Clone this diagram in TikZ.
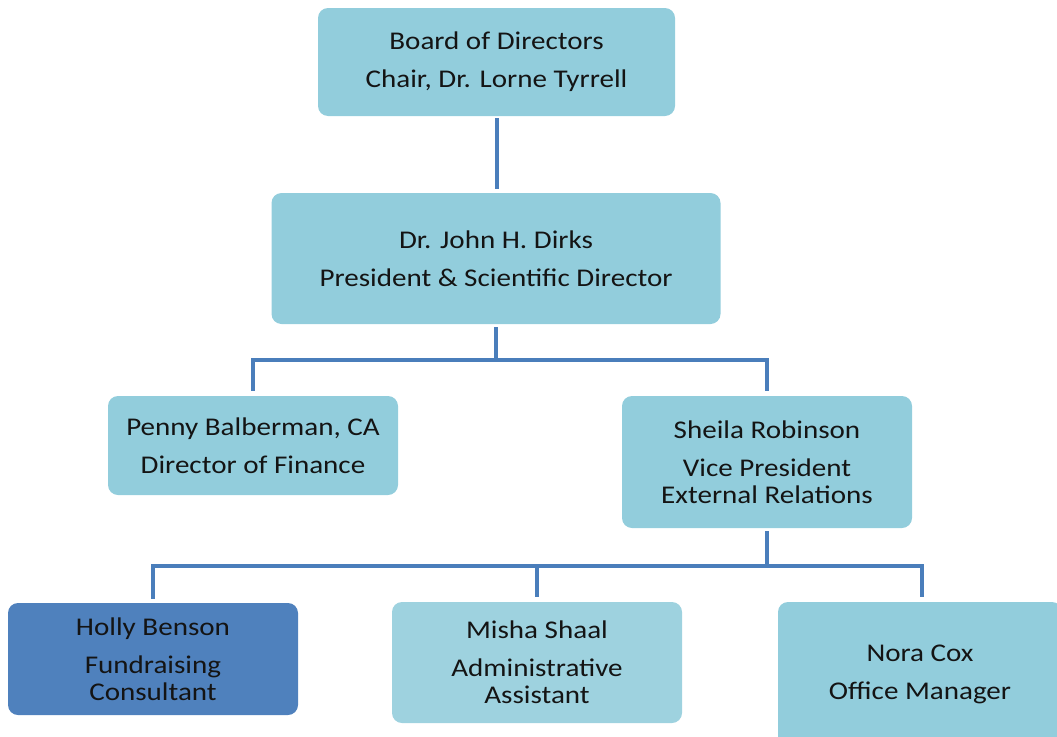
\documentclass[tikz,border=0pt]{standalone}
\usepackage{fontspec}
\setmainfont{Carlito}[FakeStretch=1.14]
\definecolor{boxblue}{RGB}{146,205,220}
\definecolor{boxlight}{RGB}{158,210,223}
\definecolor{boxdark}{RGB}{79,129,189}
\definecolor{linkblue}{RGB}{74,126,187}
\definecolor{textdark}{RGB}{20,20,20}
\begin{document}
\begin{tikzpicture}[x=1pt,y=-1pt,
  box/.style={fill=boxblue, rounded corners=10pt, inner sep=0pt, align=center,
    text=textdark, font=\fontsize{25.5}{27}\selectfont},
  conn/.style={draw=linkblue, line width=4pt}]
\clip (0,0) rectangle (1057,736);
\node[box, minimum width=357pt, minimum height=108pt] (board) at (496.5,62)
  {Board of Directors\\[11pt]Chair, Dr. Lorne Tyrrell};
\node[box, minimum width=449pt, minimum height=131pt] (dirks) at (496,258.5)
  {Dr. John H. Dirks\\[11pt]President \& Scientific Director};
\node[box, minimum width=290pt, minimum height=99pt] (penny) at (253,445.5)
  {Penny Balberman, CA\\[11pt]Director of Finance};
\node[box, minimum width=290pt, minimum height=132pt] (sheila) at (767,462)
  {Sheila Robinson\\[11pt]Vice President\\External Relations};
\node[box, fill=boxdark, minimum width=290pt, minimum height=112pt] (holly) at (153,659)
  {Holly Benson\\[11pt]Fundraising\\Consultant};
\node[box, fill=boxlight, minimum width=290pt, minimum height=121pt] (misha) at (537,662.5)
  {Misha Shaal\\[11pt]Administrative\\Assistant};
\node[box, minimum width=284pt, minimum height=144pt] (nora) at (920,674)
  {Nora Cox\\[11pt]Office Manager};
\coordinate (j1) at (496,360);
\coordinate (j2) at (767,566);
\draw[conn, shorten <=2pt, shorten >=4pt] (board.south) -- (board.south |- dirks.north);
\draw[conn, shorten <=3pt] (dirks.south) -- (j1);
\draw[conn, shorten <=5pt, shorten >=5pt] (penny.north) |- (j1) -| (sheila.north);
\draw[conn, shorten <=3pt] (sheila.south) -- (j2);
\draw[conn, shorten <=4pt, shorten >=5pt] (holly.north) |- (j2) -| ([xshift=2pt]nora.north);
\draw[conn, shorten >=5pt] (misha.north |- j2) -- (misha.north);
\end{tikzpicture}
\end{document}
